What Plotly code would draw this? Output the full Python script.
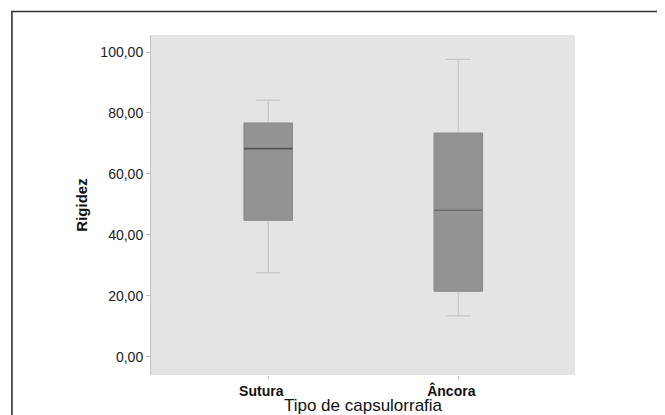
import plotly.graph_objects as go

categories = ["Sutura", "Âncora"]
lower_whisker = [27.5, 13.4]
q1_values = [44.8, 21.5]
median_values = [68.3, 48.1]
q3_values = [76.7, 73.4]
upper_whisker = [84.2, 97.6]
median_colors = ["#555555", "#6e6e6e"]

y_ticks = [0, 20, 40, 60, 80, 100]

fig = go.Figure()
for i, cat in enumerate(categories):
    # whiskers + box body
    fig.add_trace(go.Box(
        x=[cat], q1=[q1_values[i]], median=[median_values[i]], q3=[q3_values[i]],
        lowerfence=[lower_whisker[i]], upperfence=[upper_whisker[i]],
        width=0.255, whiskerwidth=0.5, fillcolor="#939393",
        line=dict(color="#c6c6c6", width=1.2), boxpoints=False,
        hoverinfo="skip", showlegend=False))
    # box outline
    fig.add_trace(go.Box(
        x=[cat], q1=[q1_values[i]], median=[median_values[i]], q3=[q3_values[i]],
        lowerfence=[q1_values[i]], upperfence=[q3_values[i]],
        width=0.255, whiskerwidth=0, fillcolor="#939393",
        line=dict(color="#8a8a8a", width=1), boxpoints=False,
        hoverinfo="skip", showlegend=False))
    # median line
    m = median_values[i]
    fig.add_trace(go.Box(
        x=[cat], q1=[m], median=[m], q3=[m], lowerfence=[m], upperfence=[m],
        width=0.255, whiskerwidth=0, fillcolor="rgba(0,0,0,0)",
        line=dict(color=median_colors[i], width=1.6), boxpoints=False,
        hoverinfo="skip", showlegend=False))

# outer frame of the figure panel
fig.add_shape(type="rect", xref="paper", yref="paper",
              x0=-0.328, x1=1.25, y0=-0.2, y1=1.069,
              line=dict(color="#333333", width=1.6), fillcolor="rgba(0,0,0,0)",
              layer="below")

fig.update_layout(
    width=657, height=407,
    margin=dict(l=143, r=90, t=26.5, b=40, autoexpand=False),
    paper_bgcolor="white", plot_bgcolor="#e3e4e6",
    separators=",.",
    boxmode="overlay",
    font=dict(family="Liberation Sans, Arial, sans-serif", color="#222222"),
    xaxis=dict(
        type="category", range=[-0.617, 1.614], automargin=False,
        showgrid=False, zeroline=False, showline=False,
        ticks="outside", ticklen=3, tickcolor="#c0c0c0",
        tickfont=dict(size=14, color="#111111", family="Liberation Sans, Arial, sans-serif"),
        ticktext=["<b>" + c + "</b>" for c in categories], tickvals=categories,
        ticklabelshift=-7,
        title=dict(text="Tipo de capsulorrafia", font=dict(size=17, color="#111111"), standoff=3),
    ),
    yaxis=dict(
        range=[-6.0, 105.6], tickvals=y_ticks, tickformat=".2f", automargin=False,
        showgrid=False, zeroline=False, showline=True, linecolor="#c4c4c4", linewidth=1,
        ticks="outside", ticklen=4, tickcolor="#c0c0c0",
        tickfont=dict(size=14, color="#222222"),
        title=dict(text="<b>Rigidez</b>", font=dict(size=15, color="#111111"), standoff=9),
    ),
)

fig.write_html("out.html")
